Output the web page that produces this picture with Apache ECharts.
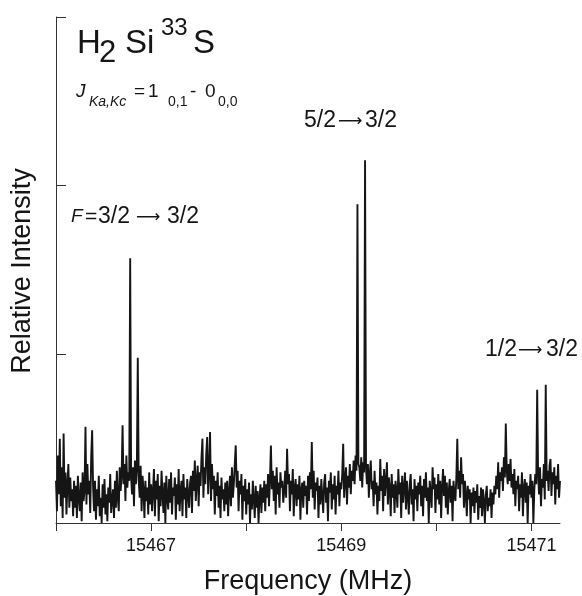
<!DOCTYPE html>
<html><head><meta charset="utf-8">
<script src="https://cdn.jsdelivr.net/npm/echarts@6/dist/echarts.min.js"></script>
<style>html,body{margin:0;padding:0;background:#fff}#c{width:582px;height:596px}</style>
</head><body><div id="c"></div>
<script>
// Frequency grid (MHz)
const freqStart = 15466.00;
const freqStep = 0.01;
const freqMax = 15471.3;
const xTicks = [15466, 15467, 15468, 15469, 15470, 15471];
const xLabels = [15467, 15469, 15471];
const yTicks = [0, 100, 200, 300];
// Relative intensity (arbitrary units, tick spacing = 100)
const intensity = [
 25,7,40,17,50,10,33,3,53,15,30,5,23,35,9,27,13,20,4,25,
 9,22,3,28,15,7,24,1,30,13,19,57,11,35,17,25,6,39,55,21,
 7,25,2,20,10,28,4,15,0,23,9,26,5,17,1,21,12,29,6,14,
 20,3,25,9,31,15,7,33,19,28,58,23,35,13,40,21,30,25,157,27,
 17,33,10,37,23,31,98,25,15,34,7,28,20,3,25,13,21,5,30,11,
 23,7,19,32,4,25,14,29,1,22,10,31,17,6,24,0,28,15,8,26,
 12,30,5,21,16,27,2,23,11,32,7,19,25,4,29,14,21,3,26,17,
 9,24,28,6,31,19,37,13,25,34,10,30,22,39,50,15,33,23,41,51,
 17,31,54,13,35,20,28,5,25,16,30,9,22,3,27,14,20,7,24,11,
 25,4,19,28,10,33,15,23,35,46,21,31,7,25,17,29,2,22,13,26,
 5,20,11,24,0,17,8,25,14,3,22,9,19,0,15,23,6,21,12,25,
 7,23,15,29,10,26,46,20,31,13,28,5,33,17,24,9,30,21,25,12,
 19,31,15,44,23,29,7,25,17,32,4,21,26,10,23,14,28,2,20,24,
 9,25,16,22,5,28,13,30,20,48,15,31,8,24,19,27,3,22,11,26,
 16,6,24,29,12,21,1,25,18,30,8,23,14,28,5,22,17,31,10,24,
 20,29,47,15,26,33,11,28,21,35,17,31,25,37,23,40,31,189,35,33,
 25,39,21,36,30,215,33,23,35,15,29,37,20,25,10,31,17,24,5,22,
 13,38,19,28,7,32,16,25,36,11,27,21,4,29,15,23,6,25,19,9,
 32,17,24,3,28,12,21,30,8,25,16,5,23,29,11,20,1,26,14,22,
 7,24,17,28,10,22,4,26,15,30,13,21,0,25,18,9,33,20,27,6,
 23,14,29,11,25,3,21,32,16,28,9,24,5,19,26,12,22,1,25,17,
 13,27,50,20,31,15,39,23,29,9,25,17,4,22,14,20,0,18,10,21,
 6,19,12,23,2,16,9,21,4,20,13,0,17,22,7,15,10,20,3,18,
 11,22,17,28,20,36,15,30,25,33,19,39,27,59,31,23,35,25,38,21,
 29,17,32,10,25,20,28,7,23,15,30,4,21,26,12,24,0,22,17,29,
 15,25,0,20,29,23,79,28,17,33,10,26,21,35,14,82,25,31,19,34,
 38,16,30,23,33,11,28,20,35,15,25
];

const FONT = '"Liberation Sans", Arial, Helvetica, sans-serif';
const ARROW_FONT = '"DejaVu Sans", sans-serif';
const seriesData = intensity.map((v, i) => [+(freqStart + i * freqStep).toFixed(2), v]);

function t(text, x, y, size, opts) {
  opts = opts || {};
  return {
    type: 'text', x: x, y: y, rotation: opts.rot || 0, silent: true,
    style: {
      text: text, fill: '#151515',
      font: (opts.italic ? 'italic ' : '') + size + 'px ' + (opts.family || FONT),
      align: opts.align || 'left', verticalAlign: 'middle'
    }
  };
}
const arrow = (x, y) => t('\u27F6', x, y, 17, {family: ARROW_FONT});

const chart = echarts.init(document.getElementById('c'), null, {renderer: 'canvas'});
chart.setOption({
  animation: false,
  backgroundColor: '#fff',
  grid: {left: 56, right: 22, top: 17, bottom: 73},
  xAxis: {
    type: 'value', min: 15466, max: freqMax,
    axisLine: {show: true, onZero: false, lineStyle: {color: '#333', width: 1}},
    axisTick: {show: true, inside: false, length: 8, customValues: xTicks, lineStyle: {color: '#333', width: 1}},
    axisLabel: {show: true, customValues: xLabels, margin: 14, fontSize: 18, color: '#151515', fontFamily: FONT,
      formatter: v => String(v)},
    splitLine: {show: false}
  },
  yAxis: {
    type: 'value', min: 0, max: 300, interval: 100,
    axisLine: {show: true, lineStyle: {color: '#333', width: 1}},
    axisTick: {show: true, inside: true, length: 10, customValues: yTicks, lineStyle: {color: '#333', width: 1}},
    axisLabel: {show: false},
    splitLine: {show: false}
  },
  series: [{
    type: 'line', data: seriesData, showSymbol: false, symbol: 'none',
    lineStyle: {color: '#151515', width: 1.9}, z: 3
  }],
  graphic: [
    t('H', 77, 44, 33), t('2', 99, 53, 31), t('Si', 125, 44, 33), t('33', 161, 28, 24), t('S', 193, 44, 33),
    t('J', 76, 92, 19, {italic: true}), t('Ka,Kc', 89, 102, 14, {italic: true}),
    t('=', 134, 92, 19), t('1', 148, 92, 19), t('0,1', 168, 102, 14),
    t('-', 190, 92, 19), t('0', 205, 92, 19), t('0,0', 218, 102, 14),
    t('F', 71, 217, 19, {italic: true}), t('=', 85, 217, 21), t('3/2', 98, 217, 23), arrow(136, 218), t('3/2', 167, 217, 23),
    t('5/2', 304, 121, 23), arrow(338, 122), t('3/2', 365, 121, 23),
    t('1/2', 485, 350, 23), arrow(518, 351), t('3/2', 546, 350, 23),
    t('Relative Intensity', 23, 271, 27, {rot: Math.PI / 2, align: 'center'}),
    t('Frequency (MHz)', 308, 582, 27, {align: 'center'})
  ]
});
</script></body></html>
